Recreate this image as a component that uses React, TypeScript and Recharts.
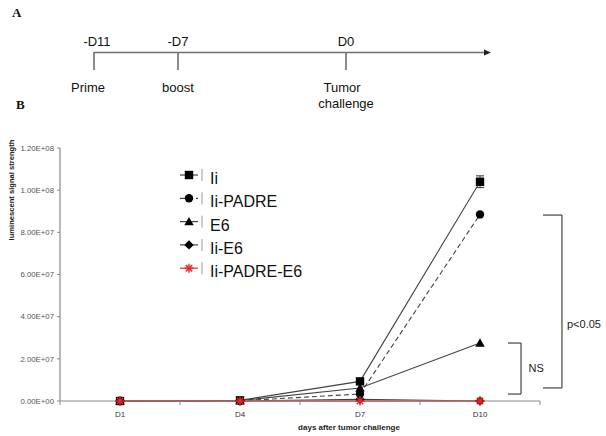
import React from 'react';
import { LineChart, Line, XAxis, YAxis, ReferenceLine, ReferenceDot, Legend, ErrorBar } from 'recharts';

// ---------- data ----------
const days = ['D1', 'D4', 'D7', 'D10'];
const ii = [0, 3e5, 9.3e6, 1.04e8];
const iiErr = [0, 0, 0, 2.8e6];
const iiPadre = [0, 1e5, 3.3e6, 8.85e7];
const e6 = [0, 2e5, 6.2e6, 2.75e7];
const iiE6 = [0, 0, 8e5, 0];
const iiPadreE6 = [0, 0, 0, 0];
const yTicks = [0, 2e7, 4e7, 6e7, 8e7, 1e8, 1.2e8];

const timelineDays = ['-D11', '-D7', 'D0'];
const timelineEvents = [['Prime'], ['boost'], ['Tumor', 'challenge']];

// significance brackets (data units)
const nsRange = [2.75e7, 3.3e6];
const pRange = [8.82e7, 6.2e6];

// ---------- layout / style ----------
const FONT = '"Liberation Sans", Arial, sans-serif';
const LINE = '#444';
const RED = '#e8282b';
const AXIS = '#8a8a8a';
const timelineX = [94, 178, 346];

const data = days.map((d, i) => ({
  x: i + 1,
  day: d,
  ii: ii[i],
  iiErr: iiErr[i],
  iiPadre: iiPadre[i],
  e6: e6[i],
  iiE6: iiE6[i],
  iiPadreE6: iiPadreE6[i],
}));

type Shape = 'square' | 'circle' | 'triangle' | 'diamond' | 'star';
const series: { key: string; name: string; shape: Shape; color: string; dash?: string }[] = [
  { key: 'ii', name: 'Ii', shape: 'square', color: LINE },
  { key: 'iiPadre', name: 'Ii-PADRE', shape: 'circle', color: LINE, dash: '5 3' },
  { key: 'e6', name: 'E6', shape: 'triangle', color: LINE },
  { key: 'iiE6', name: 'Ii-E6', shape: 'diamond', color: LINE },
  { key: 'iiPadreE6', name: 'Ii-PADRE-E6', shape: 'star', color: RED },
];

function Marker({ cx, cy, shape, color }: { cx: number; cy: number; shape: Shape; color: string }) {
  if (cx == null || cy == null) return null;
  const s = 4.2;
  switch (shape) {
    case 'square':
      return <rect x={cx - s} y={cy - s} width={2 * s} height={2 * s} fill="#000" />;
    case 'circle':
      return <circle cx={cx} cy={cy} r={s} fill="#000" />;
    case 'triangle':
      return <polygon points={`${cx},${cy - s - 0.5} ${cx + s + 0.5},${cy + s - 0.5} ${cx - s - 0.5},${cy + s - 0.5}`} fill="#000" />;
    case 'diamond':
      return <polygon points={`${cx},${cy - s - 0.5} ${cx + s + 0.5},${cy} ${cx},${cy + s + 0.5} ${cx - s - 0.5},${cy}`} fill="#000" />;
    case 'star': {
      const r = 4.5;
      const d = r * 0.707;
      return (
        <g stroke={color} strokeWidth={1.5}>
          <line x1={cx - r} y1={cy} x2={cx + r} y2={cy} />
          <line x1={cx} y1={cy - r} x2={cx} y2={cy + r} />
          <line x1={cx - d} y1={cy - d} x2={cx + d} y2={cy + d} />
          <line x1={cx - d} y1={cy + d} x2={cx + d} y2={cy - d} />
        </g>
      );
    }
  }
  return null;
}

const fmtSci = (v: number) => {
  if (v === 0) return '0.00E+00';
  const exp = Math.floor(Math.log10(Math.abs(v)));
  const m = v / Math.pow(10, exp);
  return `${m.toFixed(2)}E+${String(exp).padStart(2, '0')}`;
};

const XTick = (props: any) => {
  const { x, y, payload } = props;
  const v = payload.value;
  if (Number.isInteger(v)) {
    return (
      <text x={x} y={y + 16} textAnchor="middle" fontSize={8} fill="#333" fontFamily={FONT}>
        {days[v - 1]}
      </text>
    );
  }
  return <line x1={x} y1={y} x2={x} y2={y + 4} stroke={AXIS} strokeWidth={1} />;
};

const LegendContent = () => (
  <svg width={170} height={125} style={{ overflow: 'visible' }}>
    {series.map((s, i) => {
      const cy = 12 + i * 23.3;
      return (
        <g key={s.key}>
          <line x1={10} y1={cy} x2={28} y2={cy} stroke={s.color} strokeWidth={1.2} strokeDasharray={s.dash} />
          <Marker cx={19} cy={cy} shape={s.shape} color={s.color} />
          <line x1={32} y1={cy - 6} x2={32} y2={cy + 6} stroke="#999" strokeWidth={1} />
          <text x={40} y={cy + 9} fontSize={16} fill="#111" fontFamily={FONT}>
            {s.name}
          </text>
        </g>
      );
    })}
  </svg>
);

export default function App() {
  return (
    <div style={{ position: 'absolute', left: 0, top: 0, width: 606, height: 436, background: '#fff' }}>
      <LineChart
        width={606}
        height={436}
        data={data}
        margin={{ top: 148, right: 66, bottom: 5, left: 10 }}
      >
        <XAxis
          type="number"
          dataKey="x"
          domain={[0.5, 4.5]}
          ticks={[0.5, 1, 1.5, 2, 2.5, 3, 3.5, 4, 4.5]}
          allowDecimals
          interval={0}
          tickLine={false}
          tickSize={0}
          tickMargin={0}
          height={30}
          axisLine={{ stroke: AXIS, strokeWidth: 1.2 }}
          tick={<XTick />}
          label={{
            content: (p: any) => {
              const vb = p.viewBox;
              return (
                <text x={vb.x + vb.width / 2 + 49} y={vb.y + 29} textAnchor="middle" fontSize={8} fontWeight="bold" fill="#222" fontFamily={FONT}>
                  days after tumor challenge
                </text>
              );
            },
          }}
        />
        <YAxis
          type="number"
          domain={[0, 1.2e8]}
          ticks={yTicks}
          interval={0}
          width={50}
          tickSize={3}
          tickMargin={3}
          tickLine={{ stroke: AXIS }}
          axisLine={{ stroke: AXIS, strokeWidth: 1.2 }}
          tickFormatter={fmtSci}
          tick={{ fontSize: 7.8, fill: '#555', fontFamily: FONT }}
          label={{
            content: (p: any) => (
              <text
                x={14}
                y={190}
                transform="rotate(-90, 14, 190)"
                textAnchor="middle"
                fontSize={7.6}
                fontWeight="bold"
                fill="#222"
                fontFamily={FONT}
              >
                luminescent signal strength
              </text>
            ),
          }}
        />
        {series.map((s) => (
          <Line
            key={s.key}
            dataKey={s.key}
            name={s.name}
            type="linear"
            stroke={s.color}
            strokeWidth={s.color === RED ? 1.6 : 1.1}
            strokeDasharray={s.dash}
            isAnimationActive={false}
            dot={(p: any) => <Marker key={`${s.key}-${p.index}`} cx={p.cx} cy={p.cy} shape={s.shape} color={s.color} />}
            activeDot={false}
          >
            {s.key === 'ii' ? <ErrorBar dataKey="iiErr" width={4} stroke="#333" strokeWidth={1} isAnimationActive={false} /> : null}
          </Line>
        ))}

        {/* NS bracket */}
        <ReferenceLine ifOverflow="visible" stroke={LINE} strokeWidth={1.2} segment={[{ x: 4.342, y: nsRange[0] }, { x: 4.342, y: nsRange[1] }]} />
        <ReferenceLine ifOverflow="visible" stroke={LINE} strokeWidth={1.2} segment={[{ x: 4.233, y: nsRange[0] }, { x: 4.342, y: nsRange[0] }]} />
        <ReferenceLine ifOverflow="visible" stroke={LINE} strokeWidth={1.2} segment={[{ x: 4.233, y: nsRange[1] }, { x: 4.342, y: nsRange[1] }]} />
        <ReferenceDot
          ifOverflow="visible"
          x={4.405}
          y={(nsRange[0] + nsRange[1]) / 2}
          r={0}
          fill="none"
          stroke="none"
          label={{ value: 'NS', position: 'right', offset: 0, fontSize: 11, fill: '#222', fontFamily: FONT }}
        />
        {/* p<0.05 bracket */}
        <ReferenceLine ifOverflow="visible" stroke={LINE} strokeWidth={1.2} segment={[{ x: 4.683, y: pRange[0] }, { x: 4.683, y: pRange[1] }]} />
        <ReferenceLine ifOverflow="visible" stroke={LINE} strokeWidth={1.2} segment={[{ x: 4.525, y: pRange[0] }, { x: 4.683, y: pRange[0] }]} />
        <ReferenceLine ifOverflow="visible" stroke={LINE} strokeWidth={1.2} segment={[{ x: 4.525, y: pRange[1] }, { x: 4.683, y: pRange[1] }]} />
        <ReferenceDot
          ifOverflow="visible"
          x={4.725}
          y={3.65e7}
          r={0}
          fill="none"
          stroke="none"
          label={{ value: 'p<0.05', position: 'right', offset: 0, fontSize: 11, fill: '#222', fontFamily: FONT }}
        />

        <Legend
          layout="vertical"
          align="center"
          verticalAlign="middle"
          content={<LegendContent />}
          wrapperStyle={{ left: 170, top: 163, width: 170, height: 125 }}
        />
      </LineChart>

      {/* Panel A: timeline, and panel letters */}
      <svg width={606} height={120} style={{ position: 'absolute', left: 0, top: 0, pointerEvents: 'none' }}>
        <text x={12} y={17} fontSize={13} fontWeight="bold" fontFamily='"Liberation Serif", serif' fill="#111">A</text>
        <text x={16} y={109} fontSize={13} fontWeight="bold" fontFamily='"Liberation Serif", serif' fill="#111">B</text>
        <line x1={timelineX[0]} y1={52.5} x2={485} y2={52.5} stroke="#6e6e6e" strokeWidth={1.6} />
        <polygon points="491,52.5 484,49.5 484,55.5" fill="#222" />
        {timelineDays.map((d, i) => (
          <g key={d}>
            <line x1={timelineX[i]} y1={52} x2={timelineX[i]} y2={70} stroke="#6e6e6e" strokeWidth={1.6} />
            <text x={timelineX[i] + (i === 0 ? 3 : 0)} y={45.5} textAnchor="middle" fontSize={13} fill="#111" fontFamily={FONT}>
              {d}
            </text>
            {timelineEvents[i].map((t, j) => (
              <text
                key={t}
                x={timelineX[i] - (i === 0 ? 6 : i === 2 && j === 0 ? 4 : 0)}
                y={91.5 + j * 16}
                textAnchor="middle"
                fontSize={13}
                fill="#111"
                fontFamily={FONT}
              >
                {t}
              </text>
            ))}
          </g>
        ))}
      </svg>
    </div>
  );
}
